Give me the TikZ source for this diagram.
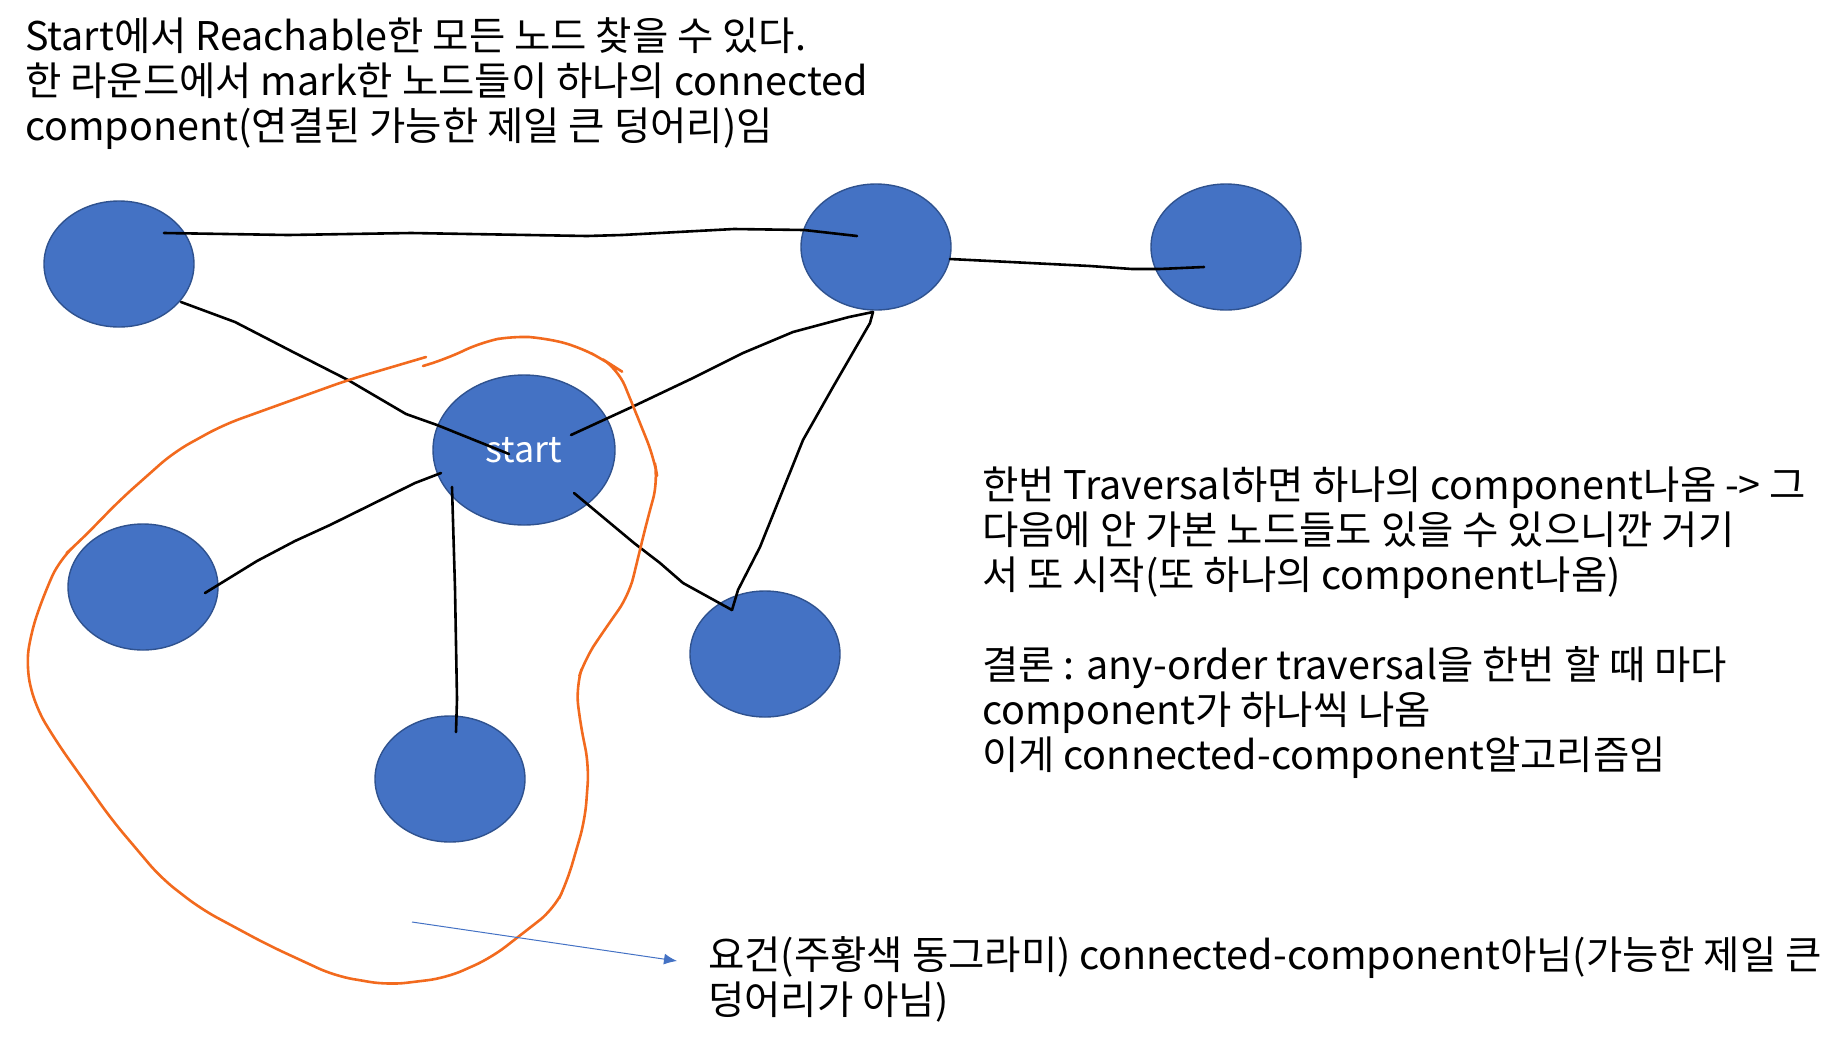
\documentclass[tikz,border=0pt]{standalone}
\usepackage{fontspec}
\setmainfont{Noto Sans CJK KR}
\usetikzlibrary{shapes.geometric, arrows.meta}
\definecolor{nodeblue}{HTML}{4472C4}
\definecolor{nodeline}{HTML}{2F528F}
\definecolor{markorange}{HTML}{F26A1E}

\begin{document}
\begin{tikzpicture}[
                x=1pt, y=-1pt,
                vertex/.style={ellipse, draw=nodeline, line width=1.4pt, fill=nodeblue, minimum width=150pt, minimum height=126pt, inner sep=0pt},
                edge/.style={draw, line width=2.6pt, line join=round, line cap=round},
                txt/.style={anchor=base west, align=left, inner sep=0pt, font=\fontsize{39.5}{45}\selectfont},
                markline/.style={draw=markorange, line width=2.6pt, line join=round, line cap=round, rounded corners=18pt}
                ]
                \useasboundingbox (0,0) rectangle (1842,1045);
                % Nodes
                \node[vertex] (tl) at (119,264) {};
                \node[vertex] (tm) at (876,247) {};
                \node[vertex] (tr) at (1226,247) {};
                \node[vertex, minimum width=182pt, minimum height=150pt, text=white, font=\fontsize{36}{45}\selectfont] (start) at (524,450) {start};
                \node[vertex] (left) at (143,587) {};
                \node[vertex] (bottom) at (450,779) {};
                \node[vertex] (right) at (765,654) {};
                % Edges
                \draw[edge] ([shift={(45,-31)}]tl.center) -- (288,235) -- (411,233) -- (587,236) -- (622,235)
                  -- (734,229) -- (804,230) -- ([shift={(-19,-11)}]tm.center);
                \draw[edge] ([shift={(74,12)}]tm.center) -- (1090,266) -- (1132,269) -- (1159,269) -- ([shift={(-22,20)}]tr.center);
                \draw[edge] ([shift={(62,38)}]tl.center) -- (235,322) -- (295,353) -- (348,380) -- (406,414)
                  -- (437,425) -- ([shift={(-15,4)}]start.center);
                \draw[edge] ([shift={(47,-15)}]start.center) -- (634,406) -- (693,378) -- (743,353) -- (793,332)
                  -- (849,317) -- ([shift={(-3,65)}]tm.center);
                \draw[edge] ([shift={(-3,65)}]tm.center) -- (870,323) -- (833,387) -- (803,440) -- (760,547)
                  -- (738,590) -- ([shift={(-33,-44)}]right.center);
                \draw[edge] ([shift={(-83,23)}]start.center) -- (415,483) -- (330,525) -- (295,541) -- (257,561)
                  -- ([shift={(62,6)}]left.center);
                \draw[edge] ([shift={(-72,37)}]start.center) -- (455,588) -- (457,699) -- ([shift={(6,-47)}]bottom.center);
                \draw[edge] ([shift={(50,43)}]start.center) -- (634,543) -- (660,563) -- (683,583)
                  -- ([shift={(-33,-44)}]right.center);
                % Marked region
                \draw[markline] (426,357) -- (348,380) -- (223,425) -- (174,452) -- (121,499) -- (80,541) -- (60,559)
                  -- (45,592) -- (31,632) -- (26,668) -- (36,708) -- (58,744) -- (112,820) -- (161,878)
                  -- (201,909) -- (268,945) -- (335,976) -- (388,985) -- (446,978) -- (491,958) -- (554,909)
                  -- (567,882) -- (585,820) -- (589,766) -- (580,722) -- (576,686) -- (585,659) -- (603,632)
                  -- (629,595) -- (647,521) -- (658,481) -- (654,458) -- (638,418) -- (618,369) -- (607,362)
                  -- (580,347) -- (545,338) -- (513,336) -- (482,342) -- (446,359) -- (423,366);
                \coordinate (tip) at (677,961);
                \draw[draw=nodeblue, line width=1pt, -{Latex[length=13pt, width=11pt]}] (412,922) -- (tip);
                % Texts (anchored at the last line)
                \node[txt] (title) at (25,140) {Start에서 Reachable한 모든 노드 찾을 수 있다.\\
                  한 라운드에서 mark한 노드들이 하나의 connected\\
                  component(연결된 가능한 제일 큰 덩어리)임};
                \node[txt] (note) at (982,769) {한번 Traversal하면 하나의 component나옴 -> 그\\
                  다음에 안 가본 노드들도 있을 수 있으니깐 거기\\
                  서 또 시작(또 하나의 component나옴)\\[45pt]
                  결론 : any-order traversal을 한번 할 때 마다\\
                  component가 하나씩 나옴\\
                  이게 connected-component알고리즘임};
                \node[txt] (caption) at (708,1014) {요건(주황색 동그라미) connected-component아님(가능한 제일 큰\\
                  덩어리가 아님)};
\end{tikzpicture}
\end{document}
